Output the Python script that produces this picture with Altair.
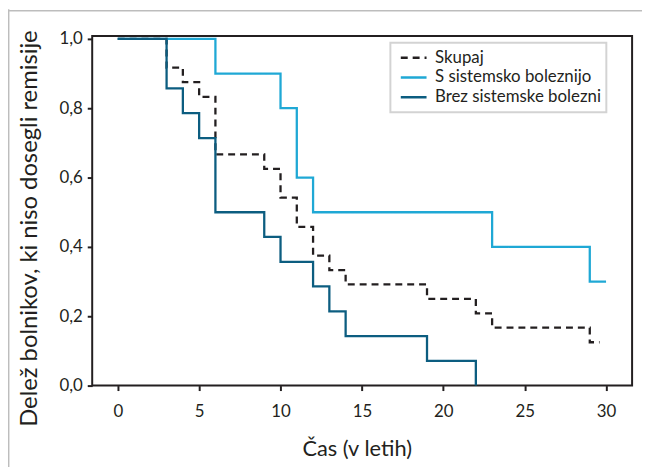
import altair as alt
import pandas as pd

# ---- data ----
groups = ["Skupaj", "S sistemsko boleznijo", "Brez sistemske bolezni"]
colors = ["#231f20", "#1fa8d5", "#0c5d80"]
dashes = [[7, 5], [1, 0], [1, 0]]

t_all = [0, 3, 4, 5, 6, 9, 10, 11, 12, 13, 14, 19, 22, 23, 29, 29.6]
s_all = [1.0, 0.917, 0.875, 0.833, 0.667, 0.625, 0.542, 0.458, 0.375, 0.333,
         0.292, 0.25, 0.208, 0.167, 0.125, 0.125]

t_sys = [0, 6, 10, 11, 12, 23, 29, 30]
s_sys = [1.0, 0.9, 0.8, 0.6, 0.5, 0.4, 0.3, 0.3]

t_no = [0, 3, 4, 5, 6, 9, 10, 12, 13, 14, 19, 22]
s_no = [1.0, 0.857, 0.786, 0.714, 0.5, 0.429, 0.357, 0.286, 0.214, 0.143, 0.071, 0.0]

x_ticks = [0, 5, 10, 15, 20, 25, 30]
y_ticks = [0, 0.2, 0.4, 0.6, 0.8, 1.0]

rows = []
for g, ts, ss in zip(groups, [t_all, t_sys, t_no], [s_all, s_sys, s_no]):
    for t, s in zip(ts, ss):
        rows.append({"skupina": g, "cas": t, "delez": s})
df = pd.DataFrame(rows)

ink = "#231f20"

lines = alt.Chart(df).mark_line(interpolate="step-after", strokeWidth=2.3).encode(
    x=alt.X("cas:Q",
            scale=alt.Scale(domain=[-1.57, 31.6], nice=False, zero=False),
            axis=alt.Axis(values=x_ticks, title="Čas (v letih)", labelPadding=13,
                          titleFontSize=22, titleX=267, titleY=71,
                          titleBaseline="alphabetic", titleAlign="center")),
    y=alt.Y("delez:Q",
            scale=alt.Scale(domain=[0, 1.0086], nice=False),
            axis=alt.Axis(values=y_ticks, title="Delež bolnikov, ki niso dosegli remisije",
                          labelExpr="replace(format(datum.value, '.1f'), '.', ',')",
                          labelPadding=5, titleFontSize=24,
                          titleX=-56, titleY=194, titleAngle=270,
                          titleBaseline="alphabetic", titleAlign="center")),
    color=alt.Color("skupina:N", title=None,
                    scale=alt.Scale(domain=groups, range=colors),
                    legend=alt.Legend(orient="none", legendX=301, legendY=7)),
    strokeDash=alt.StrokeDash("skupina:N", title=None,
                              scale=alt.Scale(domain=groups, range=dashes),
                              legend=alt.Legend(orient="none", legendX=301, legendY=7)),
)

dummy = pd.DataFrame({"a": [0]})
border_left = alt.Chart(dummy).mark_rule(color="#bdbdbd", strokeWidth=1.5).encode(
    x=alt.value(-84.3), y=alt.value(-27), y2=alt.value(460))
border_top = alt.Chart(dummy).mark_rule(color="#bdbdbd", strokeWidth=1.5).encode(
    x=alt.value(-86), x2=alt.value(600), y=alt.value(-25.3))

chart = alt.layer(border_left, border_top, lines).properties(
    width=545, height=353,
    padding={"left": 85, "top": 26, "right": 10, "bottom": 80},
    autosize=alt.AutoSizeParams(type="none"),
).configure(
    font="Lato",
).configure_view(
    stroke=ink, strokeWidth=2,
).configure_axis(
    grid=False, domain=False,
    tickSize=5, tickWidth=2, tickColor=ink,
    labelFontSize=17, labelColor=ink,
    titleFontWeight="normal", titleColor=ink,
).configure_legend(
    symbolType="stroke", symbolSize=676, symbolStrokeWidth=2.5, symbolOffset=4,
    labelFontSize=17, labelColor=ink, labelOffset=7, labelLimit=400,
    clipHeight=20, rowPadding=0, padding=5,
    fillColor="white", strokeColor="#d3d3d3", strokeWidth=2,
)

chart.save("out.html", embed_options={"renderer": "svg", "actions": False})
